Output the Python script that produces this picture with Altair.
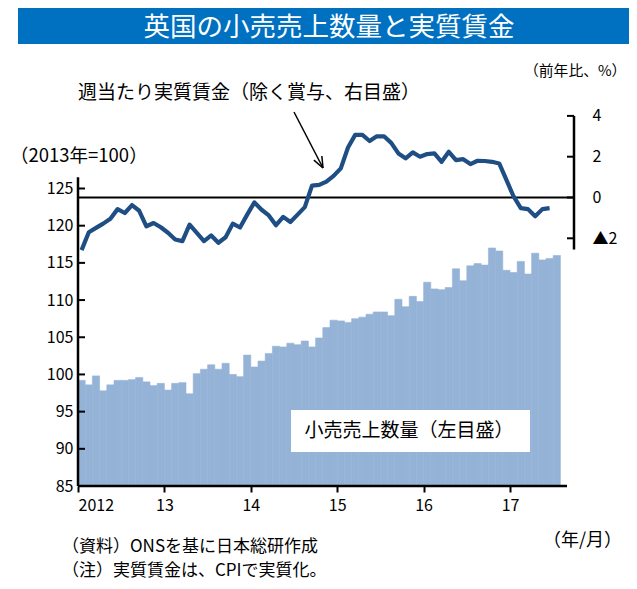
import math
import altair as alt
import pandas as pd

# ---------------- data ----------------
YEAR_LABELS = ["2012", "13", "14", "15", "16", "17"]
YEAR_TICKS = [0, 12, 24, 36, 48, 60]          # month index of each January
LEFT_TICKS = [85, 90, 95, 100, 105, 110, 115, 120, 125]
RIGHT_TICKS = [-2, 0, 2, 4]

# UK retail sales volume (2013=100), monthly Jan 2012 - Jul 2017
RETAIL = [99.2, 98.6, 99.8, 97.8, 98.6, 99.2, 99.2, 99.3, 99.6, 99.0, 98.5, 98.8,
          97.9, 98.8, 98.9, 97.4, 100.1, 100.7, 101.3, 100.7, 101.5, 100.0, 99.7, 102.6,
          101.0, 101.8, 102.8, 103.8, 103.7, 104.2, 104.0, 104.5, 103.7, 104.9, 106.3, 107.3,
          107.2, 107.0, 107.5, 107.7, 108.1, 108.4, 108.4, 107.9, 110.1, 109.1, 110.5, 109.8,
          112.4, 111.5, 111.4, 111.7, 114.2, 112.6, 114.6, 114.9, 114.7, 117.0, 116.6, 114.0,
          113.7, 115.2, 113.5, 116.3, 115.4, 115.6, 116.0]

# Weekly real wages excl. bonus (y/y %), monthly Jan 2012 - Jun 2017
WAGE = [-2.58, -1.70, -1.49, -1.28, -1.04, -0.57, -0.76, -0.37, -0.65, -1.41, -1.25, -1.46,
        -1.73, -2.06, -2.14, -1.33, -1.73, -2.14, -1.86, -2.22, -1.95, -1.28, -1.47, -0.84,
        -0.24, -0.60, -0.88, -1.36, -0.95, -1.20, -0.84, -0.47, 0.58, 0.62, 0.78, 1.06,
        1.43, 2.45, 3.07, 3.07, 2.77, 3.00, 3.00, 2.68, 2.16, 1.92, 2.21, 2.00,
        2.13, 2.16, 1.75, 2.24, 1.83, 1.88, 1.64, 1.80, 1.79, 1.75, 1.67, 0.86,
        0.05, -0.52, -0.57, -0.92, -0.57, -0.52]

TITLE = "英国の小売売上数量と実質賃金"
LINE_LABEL = "週当たり実質賃金（除く賞与、右目盛）"
BAR_LABEL = "小売売上数量（左目盛）"
LEFT_UNIT = "（2013年=100）"
RIGHT_UNIT = "（前年比、%）"
X_UNIT = "（年/月）"
NOTE1 = "（資料）ONSを基に日本総研作成"
NOTE2 = "（注）実質賃金は、CPIで実質化。"

# ---------------- layout ----------------
FONT = "Noto Sans CJK JP"
W, H = 496, 371
X_DOM = [0, W / 7.2]
L_DOM = [85, 85 + H / 7.4375]
R_DOM = [-(H - 82.5) / 20.4, 82.5 / 20.4]

xs = alt.Scale(domain=X_DOM, nice=False, zero=False)
ls = alt.Scale(domain=L_DOM, nice=False, zero=False)
rs = alt.Scale(domain=R_DOM, nice=False, zero=False)

BAR_COLOR = "#95B3D7"
LINE_COLOR = "#1F4E85"
TITLE_BG = "#0070C0"

n = len(RETAIL)
bars_df = pd.DataFrame({"m": list(range(n)), "m2": [i + 1 for i in range(n)],
                        "v": RETAIL, "base": [85] * n})
line_df = pd.DataFrame({"m": [i + 0.5 for i in range(len(WAGE))], "v": WAGE})

label_expr = "[" + ",".join("'%s'" % s for s in YEAR_LABELS) + "][round(datum.value/12)]"
x_axis = alt.Axis(values=YEAR_TICKS, labelExpr=label_expr, title=None, grid=False,
                  domain=False, ticks=True, tickSize=6, tickWidth=2, tickColor="black",
                  labelFontSize=16, labelPadding=5, labelFont=FONT, labelColor="black")
left_axis = alt.Axis(values=LEFT_TICKS, title=None, grid=False, domain=False, ticks=False,
                     labelFontSize=16, labelPadding=5, labelFont=FONT, labelColor="black")
right_axis = alt.Axis(orient="right", values=RIGHT_TICKS,
                      labelExpr="datum.value < 0 ? '▲' + abs(datum.value) : '' + datum.value",
                      title=None, grid=False, domain=False, ticks=False,
                      labelFontSize=16, labelPadding=18, labelFont=FONT, labelColor="black")

bars = alt.Chart(bars_df).mark_rect(color=BAR_COLOR, stroke=BAR_COLOR, strokeWidth=0.6).encode(
    x=alt.X("m:Q", scale=xs, axis=x_axis), x2="m2",
    y=alt.Y("v:Q", scale=ls, axis=left_axis), y2="base")

line = alt.Chart(line_df).mark_line(color=LINE_COLOR, strokeWidth=4.2, strokeJoin="round").encode(
    x=alt.X("m:Q", scale=xs, axis=x_axis),
    y=alt.Y("v:Q", scale=rs, axis=right_axis))

one = pd.DataFrame({"a": [0]})

zero_line = alt.Chart(pd.DataFrame({"z": [0]})).mark_rule(color="black", strokeWidth=2).encode(
    x=alt.value(0), x2=alt.value(W), y=alt.Y("z:Q", scale=rs, axis=None))

left_line = alt.Chart(pd.DataFrame({"a": [85], "b": [126.5]})).mark_rule(
    color="black", strokeWidth=2.5).encode(
    x=alt.value(0), y=alt.Y("a:Q", scale=ls, axis=None), y2="b")
left_ticks = alt.Chart(pd.DataFrame({"t": LEFT_TICKS})).mark_rule(
    color="black", strokeWidth=2).encode(
    x=alt.value(0), x2=alt.value(7), y=alt.Y("t:Q", scale=ls, axis=None))

right_line = alt.Chart(pd.DataFrame({"a": [-2.55], "b": [4.0]})).mark_rule(
    color="black", strokeWidth=2.5).encode(
    x=alt.value(W), y=alt.Y("a:Q", scale=rs, axis=None), y2="b")
right_ticks = alt.Chart(pd.DataFrame({"t": RIGHT_TICKS})).mark_rule(
    color="black", strokeWidth=2).encode(
    x=alt.value(W - 7), x2=alt.value(W), y=alt.Y("t:Q", scale=rs, axis=None))

x_line = alt.Chart(one).mark_rule(color="black", strokeWidth=2.5).encode(
    x=alt.value(0), x2=alt.value(489), y=alt.value(H))

# title bar
title_bg = alt.Chart(one).mark_rect(color=TITLE_BG).encode(
    x=alt.value(-60), x2=alt.value(559), y=alt.value(-107), y2=alt.value(-71))


def txt(s, x, y, size, align="left", color="black"):
    return alt.Chart(pd.DataFrame({"t": [s]})).mark_text(
        font=FONT, fontSize=size, align=align, baseline="middle", color=color).encode(
        text="t:N", x=alt.value(x), y=alt.value(y))


def seg(x1, y1, x2, y2, w=1.5):
    return alt.Chart(one).mark_rule(color="black", strokeWidth=w).encode(
        x=alt.value(x1), y=alt.value(y1), x2=alt.value(x2), y2=alt.value(y2))


title_txt = txt(TITLE, 251, -87, 26.5, align="center", color="white")

# white box for bar label
box = alt.Chart(one).mark_rect(color="white").encode(
    x=alt.value(213), x2=alt.value(452), y=alt.value(295), y2=alt.value(337))
box_txt = txt(BAR_LABEL, 331, 316, 19, align="center")

line_txt = txt(LINE_LABEL, 0, -22, 19)
left_unit = txt(LEFT_UNIT, -68, 41, 18.5)
right_unit = txt(RIGHT_UNIT, 446, -43, 14.8)
x_unit = txt(X_UNIT, 465, 426, 18)
note1 = txt(NOTE1, -16, 432, 17)
note2 = txt(NOTE2, -16, 456, 17)

# arrow
tx0, ty0, tx1, ty1 = 216, -3, 245, 53
L = math.hypot(tx1 - tx0, ty1 - ty0)
dx, dy = (tx1 - tx0) / L, (ty1 - ty0) / L
heads = []
for s in (1, -1):
    a = math.radians(22) * s
    rx = dx * math.cos(a) - dy * math.sin(a)
    ry = dx * math.sin(a) + dy * math.cos(a)
    heads.append(seg(tx1, ty1, tx1 - 12 * rx, ty1 - 12 * ry))
arrow = alt.layer(seg(tx0, ty0, tx1, ty1), *heads)

chart = alt.layer(
    bars, box, box_txt, zero_line, line, left_line, left_ticks, right_line, right_ticks,
    x_line, title_bg, title_txt, line_txt, left_unit, right_unit, x_unit, note1, note2, arrow
).resolve_scale(y="independent").properties(
    width=W, height=H,
    autosize=alt.AutoSizeParams(type="none"),
    padding={"left": 70, "top": 107, "right": 55, "bottom": 95},
    background="white",
).configure_view(stroke=None)

chart.save("out.html", embed_options={"renderer": "svg", "actions": False})
